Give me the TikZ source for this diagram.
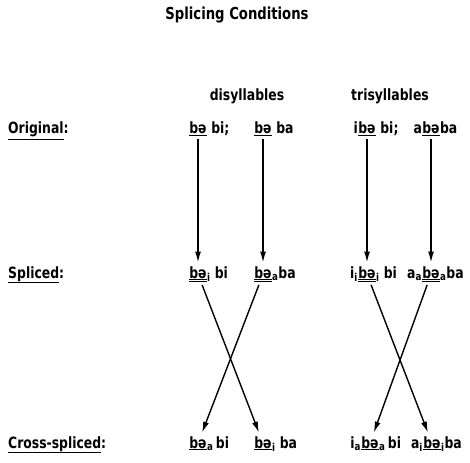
\documentclass[tikz,border=0pt]{standalone}
\usepackage{fontspec}
\setmainfont{DejaVu Sans}[FakeStretch=0.8]
\usetikzlibrary{arrows.meta, positioning}

\tikzstyle{rowLabel} = [anchor=base west, inner sep=0pt]
\tikzstyle{heading} = [anchor=base, inner sep=0pt]
\tikzstyle{syl} = [anchor=base, inner xsep=0pt, inner ysep=2.5pt]
\tikzstyle{sylPre} = [anchor=base east, inner sep=0pt]
\tikzstyle{sylPost} = [anchor=base west, inner sep=0pt]
\tikzstyle{arrowSplice} = [line width=1.4pt, -{Latex[length=11pt,width=6pt]}, shorten >= 1pt]

\newcommand{\dblUnder}[1]{\underline{\underline{#1}}}

\begin{document}
\begin{tikzpicture}[x=1pt, y=-1pt, font=\fontsize{15.5}{18}\selectfont\bfseries]
    \useasboundingbox (0,0) rectangle (470,462);

    \node (title) [heading, font=\fontsize{16.5}{18}\selectfont\bfseries] at (237,20) {Splicing Conditions};
    \node (diHead) [heading] at (247,101) {disyllables};
    \node (triHead) [heading] at (390,101) {trisyllables};

    % row labels
    \node (origLabel) [rowLabel] at (8,134) {\underline{Original}:};
    \node (splLabel) [rowLabel] at (8,278) {\underline{Spliced}:};
    \node (crossLabel) [rowLabel] at (8,448) {\underline{Cross-spliced}:};

    % original
    \foreach \n/\xx/\pre/\post in {1/198//{\ bi;}, 2/263//{\ ba}, 3/367/i/{\ bi;}, 4/431/a/ba} {
        \node (orig\n) [syl] at (\xx,134) {\underline{bə}};
        \node (origPre\n) [sylPre] at (orig\n.base west) {\pre};
        \node (origPost\n) [sylPost] at (orig\n.base east) {\post};
    }

    % spliced
    \foreach \n/\xx/\pre/\post in {1/198//{\textsubscript{i}\ bi}, 2/263//{\textsubscript{a}ba}, 3/367/{i\textsubscript{i}}/{\textsubscript{i}\ bi}, 4/431/{a\textsubscript{a}}/{\textsubscript{a}ba}} {
        \node (spl\n) [syl] at (\xx,278) {\dblUnder{bə}};
        \node (splPre\n) [sylPre] at (spl\n.base west) {\pre};
        \node (splPost\n) [sylPost] at (spl\n.base east) {\post};
    }

    % cross-spliced
    \foreach \n/\xx/\pre/\post in {1/198//{\textsubscript{a}\,bi}, 2/263//{\textsubscript{i}\ ba}, 3/370/{i\textsubscript{a}}/{\textsubscript{a}\,bi}, 4/432/{a\textsubscript{i}}/{\textsubscript{i}ba}} {
        \node (cross\n) [syl] at (\xx,448) {\underline{bə}};
        \node (crossPre\n) [sylPre] at (cross\n.base west) {\pre};
        \node (crossPost\n) [sylPost] at (cross\n.base east) {\post};
    }

    \foreach \n in {1,...,4} {
        \draw [arrowSplice] (orig\n) -- (spl\n);
    }

    \foreach \a/\b in {1/2, 2/1, 3/4, 4/3} {
        \draw [arrowSplice] (spl\a) -- (cross\b);
    }

\end{tikzpicture}
\end{document}
